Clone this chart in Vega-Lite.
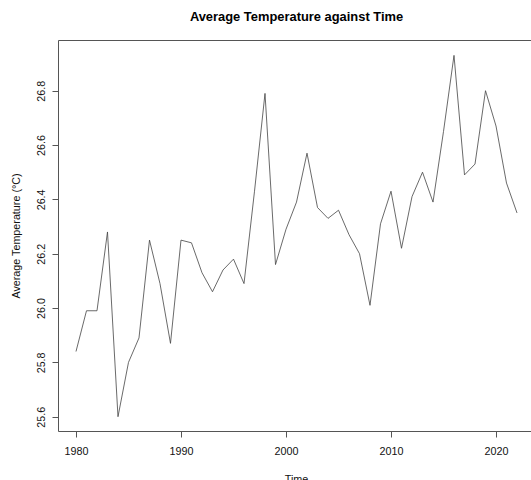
{
  "$schema": "https://vega.github.io/schema/vega-lite/v6.json",
  "autosize": {"type": "none"},
  "padding": {"left": 58, "top": 40, "right": 0, "bottom": 49},
  "width": 473,
  "height": 391,
  "background": "white",
  "title": {
    "text": "Average Temperature against Time",
    "font": "Liberation Sans",
    "fontSize": 12.9,
    "fontWeight": "bold",
    "color": "#000000",
    "anchor": "middle",
    "frame": "group",
    "baseline": "alphabetic",
    "offset": 6,
    "dx": 2
  },
  "config": {
    "view": {"stroke": null},
    "font": "Liberation Sans",
    "axis": {
      "grid": false,
      "labelFont": "Liberation Sans",
      "titleFont": "Liberation Sans",
      "labelFontSize": 10.75,
      "titleFontSize": 10.75,
      "titleFontWeight": "normal",
      "labelColor": "#111111",
      "titleColor": "#111111",
      "domainColor": "#555555",
      "tickColor": "#555555",
      "domainWidth": 1,
      "tickWidth": 1,
      "tickSize": 6
    }
  },
  "data": {
    "values": [
      {"year": 1980, "temp": 25.84},
      {"year": 1981, "temp": 25.99},
      {"year": 1982, "temp": 25.99},
      {"year": 1983, "temp": 26.28},
      {"year": 1984, "temp": 25.60},
      {"year": 1985, "temp": 25.80},
      {"year": 1986, "temp": 25.89},
      {"year": 1987, "temp": 26.25},
      {"year": 1988, "temp": 26.09},
      {"year": 1989, "temp": 25.87},
      {"year": 1990, "temp": 26.25},
      {"year": 1991, "temp": 26.24},
      {"year": 1992, "temp": 26.13},
      {"year": 1993, "temp": 26.06},
      {"year": 1994, "temp": 26.14},
      {"year": 1995, "temp": 26.18},
      {"year": 1996, "temp": 26.09},
      {"year": 1997, "temp": 26.43},
      {"year": 1998, "temp": 26.79},
      {"year": 1999, "temp": 26.16},
      {"year": 2000, "temp": 26.29},
      {"year": 2001, "temp": 26.39},
      {"year": 2002, "temp": 26.57},
      {"year": 2003, "temp": 26.37},
      {"year": 2004, "temp": 26.33},
      {"year": 2005, "temp": 26.36},
      {"year": 2006, "temp": 26.27},
      {"year": 2007, "temp": 26.20},
      {"year": 2008, "temp": 26.01},
      {"year": 2009, "temp": 26.31},
      {"year": 2010, "temp": 26.43},
      {"year": 2011, "temp": 26.22},
      {"year": 2012, "temp": 26.41},
      {"year": 2013, "temp": 26.50},
      {"year": 2014, "temp": 26.39},
      {"year": 2015, "temp": 26.65},
      {"year": 2016, "temp": 26.93},
      {"year": 2017, "temp": 26.49},
      {"year": 2018, "temp": 26.53},
      {"year": 2019, "temp": 26.80},
      {"year": 2020, "temp": 26.67},
      {"year": 2021, "temp": 26.46},
      {"year": 2022, "temp": 26.35}
    ]
  },
  "layer": [
    {
      "mark": {"type": "line", "color": "#444444", "strokeWidth": 0.8},
      "encoding": {
        "x": {
          "field": "year",
          "type": "quantitative",
          "scale": {"domain": [1978.286, 2023.333], "nice": false, "zero": false},
          "axis": {
            "orient": "bottom",
            "values": [1980, 1990, 2000, 2010, 2020],
            "format": "d",
            "labelPadding": 9,
            "labelBaseline": "top",
            "title": "Time",
            "titleBaseline": "alphabetic",
            "titleAnchor": "middle",
            "titleY": 51,
            "titleX": 238
          }
        },
        "y": {
          "field": "temp",
          "type": "quantitative",
          "scale": {"domain": [25.5474, 26.9866], "nice": false, "zero": false},
          "axis": {
            "values": [25.6, 25.8, 26.0, 26.2, 26.4, 26.6, 26.8],
            "format": ".1f",
            "labelAngle": 270,
            "labelAlign": "center",
            "labelBaseline": "bottom",
            "labelPadding": 6,
            "title": "Average Temperature (°C)",
            "titleAngle": 270,
            "titleAlign": "center",
            "titleBaseline": "middle",
            "titleX": -42,
            "titleY": 195.5
          }
        }
      }
    },
    {
      "mark": {"type": "line", "opacity": 0},
      "encoding": {
        "x": {
          "field": "year",
          "type": "quantitative",
          "axis": {
            "orient": "top",
            "labels": false,
            "ticks": false,
            "title": null,
            "domain": true
          }
        },
        "y": {"field": "temp", "type": "quantitative"}
      }
    }
  ],
  "resolve": {"axis": {"x": "independent", "y": "shared"}}
}
